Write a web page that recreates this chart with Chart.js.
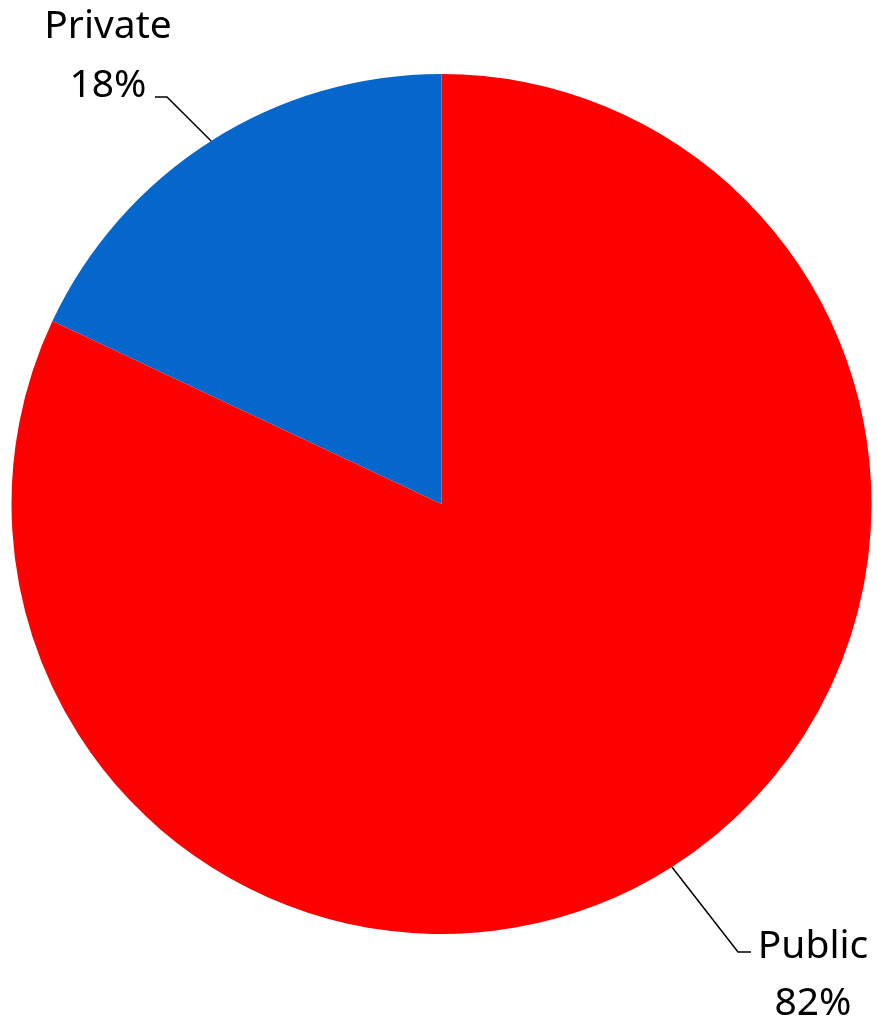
<!DOCTYPE html>
<html>
<head>
<meta charset="utf-8">
<script src="https://cdn.jsdelivr.net/npm/chart.js@4"></script>
<style>
html,body{margin:0;padding:0;background:#fff;}
canvas{display:block;}
</style>
</head>
<body>
<canvas id="c" width="877" height="1023"></canvas>
<script>
const categories = ["Public", "Private"];
const values = [82, 18];
const percentLabels = ["82%", "18%"];
const colors = ["#FF0000", "#0566CC"];

// label placement (style/layout only)
const labelLayout = [
  { elbow: [738, 952], end: [751, 952], textX: 813, baselines: [958, 1015] },
  { elbow: [167, 97], end: [155, 97], textX: 108, baselines: [38, 97] }
];

const leaderPlugin = {
  id: 'leaders',
  afterDatasetsDraw(chart) {
    const ctx = chart.ctx;
    const meta = chart.getDatasetMeta(0);
    meta.data.forEach((arc, i) => {
      const p = arc.getProps(['x','y','startAngle','endAngle','outerRadius'], true);
      const mid = (p.startAngle + p.endAngle) / 2;
      const x0 = p.x + p.outerRadius * Math.cos(mid);
      const y0 = p.y + p.outerRadius * Math.sin(mid);
      const L = labelLayout[i];
      ctx.save();
      ctx.strokeStyle = '#000';
      ctx.lineWidth = 1.5;
      ctx.beginPath();
      ctx.moveTo(x0, y0);
      ctx.lineTo(L.elbow[0], L.elbow[1]);
      ctx.lineTo(L.end[0], L.end[1]);
      ctx.stroke();
      ctx.fillStyle = '#000';
      ctx.font = '39px "Noto Sans", sans-serif';
      ctx.textAlign = 'center';
      ctx.textBaseline = 'alphabetic';
      ctx.fillText(chart.data.labels[i], L.textX, L.baselines[0]);
      ctx.fillText(percentLabels[i], L.textX, L.baselines[1]);
      ctx.restore();
    });
  }
};

new Chart(document.getElementById('c'), {
  type: 'pie',
  data: {
    labels: categories,
    datasets: [{
      data: values,
      backgroundColor: colors,
      borderWidth: 0
    }]
  },
  options: {
    responsive: false,
    animation: false,
    layout: { padding: { left: 11.5, right: 5.5, top: 74, bottom: 89 } },
    plugins: {
      legend: { display: false },
      tooltip: { enabled: false }
    }
  },
  plugins: [leaderPlugin]
});
</script>
</body>
</html>
